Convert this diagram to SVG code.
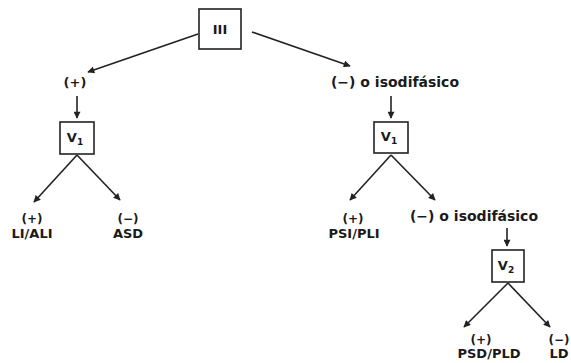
<svg xmlns="http://www.w3.org/2000/svg" width="571" height="363" viewBox="0 0 571 363">
<style>
.box{fill:#fff;stroke:#222;stroke-width:1.6}
.t{font-family:"DejaVu Sans","Liberation Sans",Arial,sans-serif;font-weight:bold;font-size:13px;fill:#1a1a1a;text-anchor:middle}
.w{font-size:14px}
.p{font-size:12px}
.s{font-size:9px}
.c{stroke:#222;stroke-width:1.6;fill:none;marker-end:url(#ah)}
</style>
<defs>
<marker id="ah" viewBox="0 0 10 10" refX="9" refY="5" markerWidth="8" markerHeight="7" markerUnits="userSpaceOnUse" orient="auto">
<path d="M0,0 L10,5 L0,10 z" fill="#222"/>
</marker>
</defs>
<rect width="571" height="363" fill="#fff"/>
<g id="connectors">
<line class="c" x1="198" y1="34" x2="88" y2="72"/>
<line class="c" x1="252" y1="32" x2="350" y2="66"/>
<line class="c" x1="77" y1="96" x2="77" y2="118"/>
<line class="c" x1="391" y1="96" x2="391" y2="118"/>
<line class="c" x1="77" y1="155" x2="34" y2="202"/>
<line class="c" x1="77" y1="155" x2="120" y2="200"/>
<line class="c" x1="391" y1="155" x2="350" y2="200"/>
<line class="c" x1="391" y1="155" x2="435" y2="200"/>
<line class="c" x1="507" y1="228" x2="507" y2="246"/>
<line class="c" x1="508" y1="283" x2="464" y2="327"/>
<line class="c" x1="508" y1="283" x2="550" y2="327"/>
</g>
<g id="n-III">
<rect class="box" x="199" y="9" width="42" height="40"/>
<text class="t" x="220" y="34" font-size="10">III</text>
</g>
<g id="n-pos1">
<text class="t" x="75" y="87">(+)</text>
</g>
<g id="n-neg1">
<text class="t w" x="395" y="87">(−) o isodifásico</text>
</g>
<g id="n-V1a">
<rect class="box" x="60" y="122" width="34" height="32"/>
<text class="t" x="75" y="142">V<tspan class="s" dy="3">1</tspan></text>
</g>
<g id="n-V1b">
<rect class="box" x="374" y="122" width="34" height="31"/>
<text class="t" x="389" y="141">V<tspan class="s" dy="3">1</tspan></text>
</g>
<g id="n-LIALI">
<text class="t p" x="32" y="223">(+)</text>
<text class="t" x="32" y="238">LI/ALI</text>
</g>
<g id="n-ASD">
<text class="t p" x="128" y="223">(−)</text>
<text class="t" x="128" y="238">ASD</text>
</g>
<g id="n-PSIPLI">
<text class="t p" x="353" y="223">(+)</text>
<text class="t" x="354" y="238">PSI/PLI</text>
</g>
<g id="n-neg2">
<text class="t w" x="474" y="221">(−) o isodifásico</text>
</g>
<g id="n-V2">
<rect class="box" x="492" y="250" width="32" height="32"/>
<text class="t" x="506" y="270">V<tspan class="s" dy="3">2</tspan></text>
</g>
<g id="n-PSDPLD">
<text class="t p" x="481" y="344">(+)</text>
<text class="t" x="489" y="358">PSD/PLD</text>
</g>
<g id="n-LD">
<text class="t p" x="559" y="344">(−)</text>
<text class="t" x="559" y="358">LD</text>
</g>
</svg>
